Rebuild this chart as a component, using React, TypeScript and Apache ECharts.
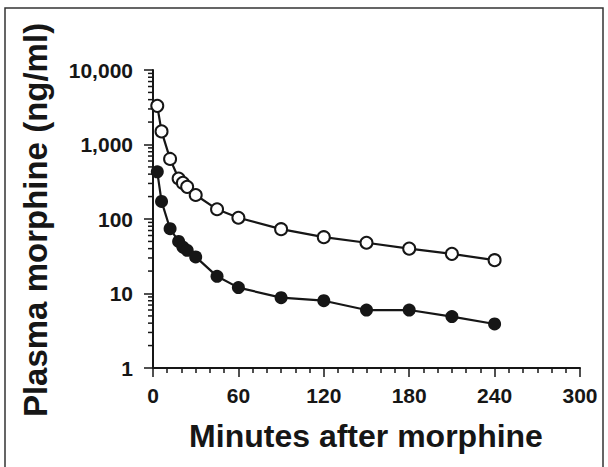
import React, { useEffect, useRef } from "react";
import * as echarts from "echarts";

const times = [3, 6, 12, 18, 21, 24, 30, 45, 60, 90, 120, 150, 180, 210, 240];
const openValues = [3300, 1500, 640, 350, 305, 270, 210, 135, 104, 73, 57, 48, 40, 34, 28];
const filledValues = [430, 172, 74, 50, 42, 38, 31, 17, 12, 8.8, 8.0, 6.0, 6.0, 4.9, 3.9];
const yTickLabels: Record<number, string> = { 1: "1", 10: "10", 100: "100", 1000: "1,000", 10000: "10,000" };
const decades = [1, 10, 100, 1000];
const minorMultipliers = [2, 3, 4, 5, 6, 7, 8, 9];

const INK = "#161616";
const FONT = "Liberation Sans";

export default function App() {
  const ref = useRef<HTMLDivElement>(null);
  useEffect(() => {
    if (!ref.current) return;
    const chart = echarts.init(ref.current, undefined, { renderer: "svg" });
    const minorVals: number[] = [];
    decades.forEach((d) => minorMultipliers.forEach((m) => minorVals.push(d * m)));
    chart.setOption({
      animation: false,
      backgroundColor: "#ffffff",
      grid: { left: 153, top: 70, right: 28, bottom: 99, containLabel: false },
      xAxis: {
        type: "value",
        min: 0,
        max: 300,
        interval: 60,
        axisLine: { show: true, lineStyle: { color: INK, width: 2 } },
        axisTick: { show: true, length: 9, lineStyle: { color: INK, width: 1.5 } },
        minorTick: { show: true, splitNumber: 6, length: 5, lineStyle: { color: INK, width: 1.5 } },
        splitLine: { show: false },
        axisLabel: { margin: 17, color: INK, fontSize: 21, fontWeight: "bold", fontFamily: FONT },
      },
      yAxis: {
        type: "log",
        logBase: 10,
        min: 1,
        max: 10000,
        axisLine: { show: true, lineStyle: { color: INK, width: 2 } },
        axisTick: { show: true, length: 9, lineStyle: { color: INK, width: 1.5 } },
        splitLine: { show: false },
        axisLabel: {
          margin: 20,
          color: INK,
          fontSize: 21,
          fontWeight: "bold",
          fontFamily: FONT,
          formatter: (v: number) => yTickLabels[Math.round(v)] ?? String(v),
        },
      },
      graphic: [
        {
          type: "rect",
          shape: { x: 5, y: 8, width: 598, height: 480 },
          style: { fill: "none", stroke: "#333", lineWidth: 1.5 },
          silent: true,
        },
        {
          type: "text",
          x: 366,
          y: 436,
          style: {
            text: "Minutes after morphine",
            fill: INK,
            fontSize: 32,
            fontWeight: "bold",
            fontFamily: FONT,
            align: "center",
            verticalAlign: "middle",
          },
        },
        {
          type: "text",
          x: 35,
          y: 220,
          rotation: Math.PI / 2,
          style: {
            text: "Plasma morphine (ng/ml)",
            fill: INK,
            fontSize: 33,
            fontWeight: "bold",
            fontFamily: FONT,
            align: "center",
            verticalAlign: "middle",
          },
        },
      ],
      series: [
        {
          type: "custom",
          silent: true,
          clip: false,
          data: minorVals.map((v) => [0, v]),
          renderItem: (_p: any, api: any) => {
            const pt = api.coord([0, api.value(1)]);
            return {
              type: "line",
              shape: { x1: pt[0] - 5, y1: pt[1], x2: pt[0], y2: pt[1] },
              style: { stroke: INK, lineWidth: 1.5 },
            };
          },
        },
        {
          type: "line",
          data: times.map((t, i) => [t, filledValues[i]]),
          symbol: "circle",
          symbolSize: 13,
          lineStyle: { color: INK, width: 2.2 },
          itemStyle: { color: INK, borderColor: INK, borderWidth: 0 },
          z: 3,
        },
        {
          type: "line",
          data: times.map((t, i) => [t, openValues[i]]),
          symbol: "circle",
          symbolSize: 12,
          lineStyle: { color: INK, width: 2.2 },
          itemStyle: { color: "#ffffff", borderColor: INK, borderWidth: 2 },
          z: 4,
        },
      ],
    });
    return () => chart.dispose();
  }, []);
  return (
    <div
      ref={ref}
      style={{ position: "fixed", left: 0, top: 0, width: 608, height: 467, background: "#fff" }}
    />
  );
}
